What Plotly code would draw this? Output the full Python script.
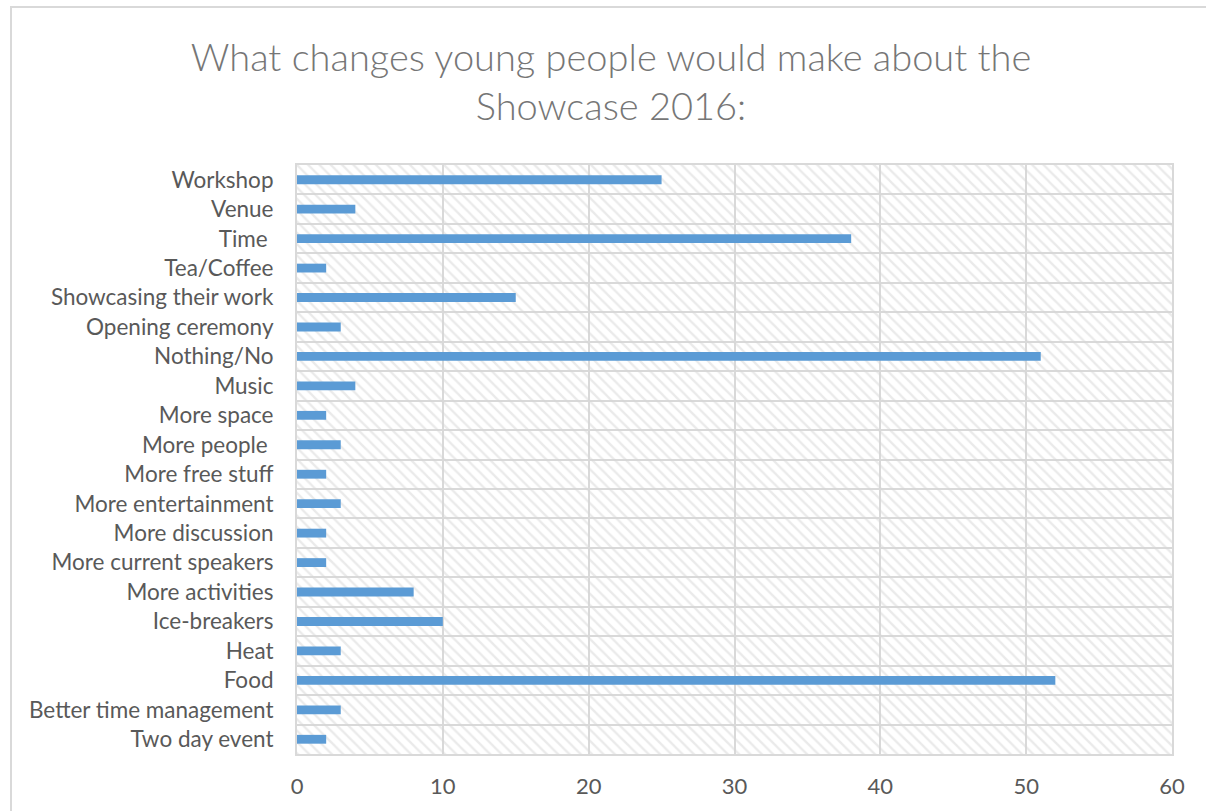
import plotly.graph_objects as go

categories = [
    "Workshop", "Venue", "Time ", "Tea/Coffee", "Showcasing their work",
    "Opening ceremony", "Nothing/No", "Music", "More space", "More people ",
    "More free stuff", "More entertainment", "More discussion",
    "More current speakers", "More activities", "Ice-breakers", "Heat",
    "Food", "Better time management", "Two day event",
]
values = [25, 4, 38, 2, 15, 3, 51, 4, 2, 3, 2, 3, 2, 2, 8, 10, 3, 52, 3, 2]
x_max = 60

FONT = "Lato"
GRID = "#d9d9d9"

fig = go.Figure()
# hatched plot-area background
fig.add_trace(go.Bar(
    y=categories, x=[x_max] * len(categories), orientation="h", width=1,
    marker=dict(color="rgba(0,0,0,0)", line=dict(width=0),
                pattern=dict(shape="\\", fgcolor="#d6d6d6", bgcolor="rgba(0,0,0,0)",
                             size=8, solidity=0.3)),
    hoverinfo="skip", showlegend=False,
))
fig.add_trace(go.Bar(
    y=categories, x=values, orientation="h", width=0.3,
    marker=dict(color="#5b9bd5", line=dict(width=0)),
    showlegend=False,
))

fig.update_layout(
    width=1206, height=811,
    barmode="overlay",
    plot_bgcolor="white", paper_bgcolor="white",
    margin=dict(l=297, r=34, t=165, b=57),
    font=dict(family=FONT, color="#595959", size=21),
    title=dict(
        text="What changes young people would make about the<br>Showcase 2016:",
        x=611 / 1206, xanchor="center", xref="container",
        y=1 - 71 / 811, yanchor="top", yref="container",
        font=dict(family=FONT, size=38, color="#767676", weight=300),
    ),
    xaxis=dict(
        range=[0, x_max], dtick=10, showgrid=True, gridcolor=GRID, gridwidth=2,
        zeroline=False, showline=True, mirror=True, linecolor=GRID, linewidth=2,
        ticks="", ticklabelstandoff=12, tickfont=dict(size=22, color="#595959"),
    ),
    yaxis=dict(
        autorange="reversed", tickson="boundaries", showgrid=True,
        gridcolor=GRID, gridwidth=2, showline=True, mirror=True,
        linecolor=GRID, linewidth=2, ticks="", ticklabelstandoff=17,
        tickfont=dict(size=22.5, color="#595959"),
    ),
    shapes=[dict(
        type="rect", xref="paper", yref="paper",
        x0=(11 - 297) / 875, x1=(1230 - 297) / 875,
        y0=(754 - 830) / 589, y1=(754 - 7) / 589,
        line=dict(color=GRID, width=2), fillcolor="rgba(0,0,0,0)", layer="below",
    )],
)

fig.write_html("out.html")
